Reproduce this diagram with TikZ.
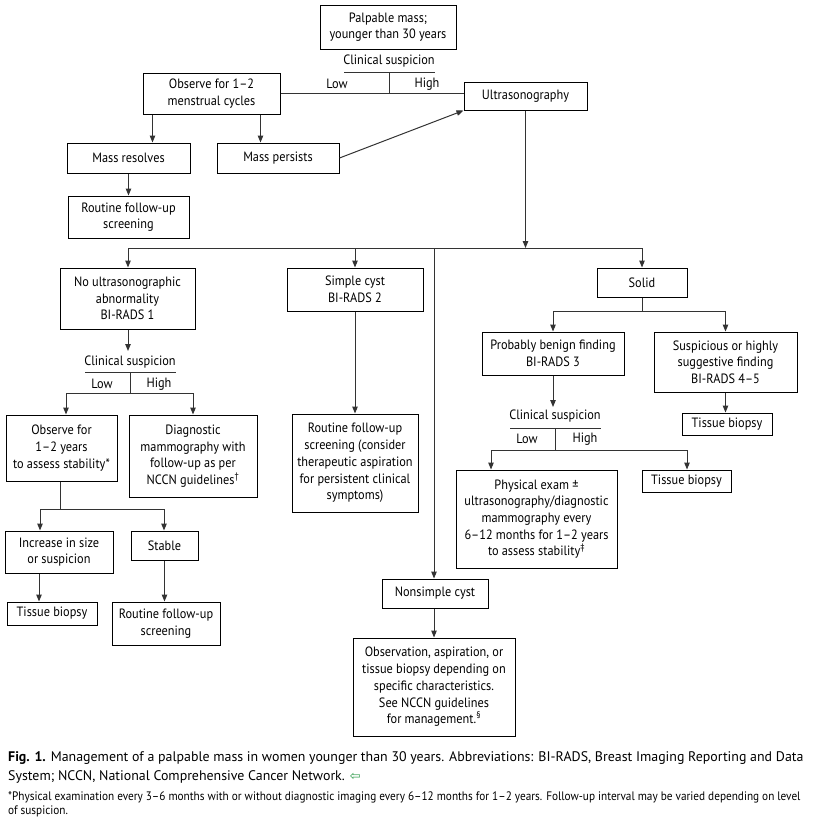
\documentclass[tikz,border=0pt]{standalone}
\usepackage{fontspec}
\setmainfont{PT Sans}[FakeStretch=0.91]
\newfontfamily\capfont{PT Sans}
\newfontfamily\footfont{PT Sans}[FakeStretch=0.915]
\newfontfamily\symfont{DejaVu Sans}
\usetikzlibrary{arrows.meta,calc}
\definecolor{lncol}{HTML}{333333}
\definecolor{capgreen}{HTML}{2E9A4A}
\begin{document}
\begin{tikzpicture}[x=1pt,y=-1pt,
  box/.style={draw=black, line width=1pt, align=center, inner sep=0pt,
    font=\fontsize{13.5}{16.7}\selectfont},
  lbl/.style={inner sep=0pt, font=\fontsize{13.5}{15}\selectfont},
  ln/.style={draw=lncol, line width=1pt},
  arr/.style={ln, -{Triangle[length=7pt,width=5.5pt]}}]
\useasboundingbox (0,0) rectangle (812,825);

% ---- boxes ----
\node[box, minimum width=136pt, minimum height=44pt] (palp) at (388,27) {Palpable mass;\\younger than 30 years};
\node[box, minimum width=137pt, minimum height=41pt] (obs) at (211.5,93.5) {Observe for 1–2\\menstrual cycles};
\node[box, minimum width=123pt, minimum height=28pt] (us) at (525.5,96) {Ultrasonography};
\node[box, minimum width=123pt, minimum height=30pt] (resolves) at (128.5,158) {Mass resolves};
\node[box, minimum width=122pt, minimum height=30pt] (persists) at (278,158) {Mass persists};
\node[box, minimum width=121pt, minimum height=42pt] (routine1) at (128.5,217) {Routine follow-up\\screening};
\node[box, minimum width=135pt, minimum height=61pt] (noultra) at (127.5,298.5) {No ultrasonographic\\abnormality\\BI-RADS 1};
\node[box, minimum width=136pt, minimum height=43pt] (simple) at (355,289.5) {Simple cyst\\BI-RADS 2};
\node[box, minimum width=90pt, minimum height=29pt] (solid) at (642,282.5) {Solid};
\node[box, minimum width=142pt, minimum height=43pt] (probben) at (553,353.5) {Probably benign finding\\BI-RADS 3};
\node[box, minimum width=143pt, minimum height=60pt] (susp) at (725.5,362) {Suspicious or highly\\suggestive finding\\BI-RADS 4–5};
\node[box, minimum width=90pt, minimum height=22pt] (tbsusp) at (727,424) {Tissue biopsy};
\node[box, minimum width=161pt, minimum height=98pt] (phys) at (536.5,519) {Physical exam ±\\ultrasonography/diagnostic\\mammography every\\6–12 months for 1–2 years\\to assess stability\textsuperscript{‡}};
\node[box, minimum width=89pt, minimum height=22pt] (tbhigh) at (686.5,481) {Tissue biopsy};
\node[box, minimum width=106pt, minimum height=29pt] (nonsimple) at (435,593.5) {Nonsimple cyst};
\node[box, minimum width=162pt, minimum height=98pt] (observation) at (434,687) {Observation, aspiration, or\\tissue biopsy depending on\\specific characteristics.\\See NCCN guidelines\\for management.\textsuperscript{§}};
\node[box, minimum width=126pt, minimum height=98pt] (routsimple) at (355,463) {Routine follow-up\\screening (consider\\therapeutic aspiration\\for persistent clinical\\symptoms)};
\node[box, minimum width=111pt, minimum height=66pt] (obs12) at (61.5,448) {Observe for\\1–2 years\\to assess stability*};
\node[box, minimum width=128pt, minimum height=82pt] (diag) at (193,456) {Diagnostic\\mammography with\\follow-up as per\\NCCN guidelines\textsuperscript{†}};
\node[box, minimum width=108pt, minimum height=42pt] (increase) at (59,552) {Increase in size\\or suspicion};
\node[box, minimum width=67pt, minimum height=29pt] (stable) at (164.5,545.5) {Stable};
\node[box, minimum width=90pt, minimum height=23pt] (tbleft) at (52,613.5) {Tissue biopsy};
\node[box, minimum width=108pt, minimum height=43pt] (routleft) at (166,623.5) {Routine follow-up\\screening};

% ---- clinical suspicion 1 (top) ----
\node[lbl] (cs1) at (389,61) {Clinical suspicion};
\node[lbl] (low1) at (337,84) {Low};
\node[lbl] (high1) at (427,84) {High};
\coordinate (u1a) at (344,72); \coordinate (u1b) at (435,72);
\coordinate (t1a) at (389,72); \coordinate (t1b) at (389,93.5);
\draw[ln] (u1a) -- (u1b);
\draw[ln] (t1a) -- (t1b);
\draw[ln] (obs.east) -- (obs.east -| us.west);

\draw[arr] ([xshift=10pt]obs.south west) -- ([xshift=10pt]obs.south west |- resolves.north);
\draw[arr] ([xshift=-20pt]obs.south east) -- ([xshift=-20pt]obs.south east |- persists.north);
\draw[arr] (persists.east) -- (us.south west);
\draw[arr] (resolves.south) -- (resolves.south |- routine1.north);

% ---- ultrasonography bus ----
\coordinate (bus) at (525.5,248);
\coordinate (busL) at (128,248);
\coordinate (busR) at (642,248);
\coordinate (busN) at (434,248);
\draw[arr] (us.south) -- (bus);
\draw[ln] (busL) -- (busR);
\draw[arr] (busL) -- (busL |- noultra.north);
\draw[arr] (simple.north |- busL) -- (simple.north);
\draw[arr] (busR) -- (solid.north);
\draw[arr] (busN) -- (busN |- nonsimple.north);

% ---- clinical suspicion 2 (left) ----
\coordinate (cs2tip) at (128,351);
\draw[arr] (noultra.south -| cs2tip) -- (cs2tip);
\node[lbl] (cs2) at (130,362) {Clinical suspicion};
\node[lbl] (low2) at (102,384) {Low};
\node[lbl] (high2) at (159,384) {High};
\coordinate (u2a) at (85,372); \coordinate (u2b) at (176,372);
\coordinate (t2a) at (130,372); \coordinate (t2b) at (130,393);
\coordinate (h2a) at (66,393); \coordinate (h2b) at (193,393);
\draw[ln] (u2a) -- (u2b);
\draw[ln] (t2a) -- (t2b);
\draw[ln] (h2a) -- (h2b);
\draw[arr] (h2a) -- (h2a |- obs12.north);
\draw[arr] (h2b) -- (h2b |- diag.north);

\draw[arr] (simple.south) -- (simple.south |- routsimple.north);

% ---- solid ----
\coordinate (s1) at (642,311);
\coordinate (s1a) at (553,311); \coordinate (s1b) at (725.5,311);
\draw[ln] (solid.south) -- (s1);
\draw[ln] (s1a) -- (s1b);
\draw[arr] (s1a) -- (probben.north);
\draw[arr] (s1b) -- (susp.north);
\draw[arr] (susp.south) -- (susp.south |- tbsusp.north);

% ---- clinical suspicion 3 (right) ----
\coordinate (cs3tip) at (553,407);
\draw[arr] (probben.south) -- (cs3tip);
\node[lbl] (cs3) at (555,416) {Clinical suspicion};
\node[lbl] (low3) at (527,439) {Low};
\node[lbl] (high3) at (585,439) {High};
\coordinate (u3a) at (510,428); \coordinate (u3b) at (601,428);
\coordinate (t3a) at (555,428); \coordinate (t3b) at (555,450);
\coordinate (h3a) at (491,450); \coordinate (h3b) at (687,450);
\draw[ln] (u3a) -- (u3b);
\draw[ln] (t3a) -- (t3b);
\draw[ln] (h3a) -- (h3b);
\draw[arr] (h3a) -- (h3a |- phys.north);
\draw[arr] (h3b) -- (h3b |- tbhigh.north);

% ---- observe 1-2 years ----
\coordinate (o1) at (60,509);
\coordinate (o1a) at (40,509); \coordinate (o1b) at (164,509);
\draw[ln] (obs12.south -| o1) -- (o1);
\draw[ln] (o1a) -- (o1b);
\draw[arr] (o1a) -- (o1a |- increase.north);
\draw[arr] (o1b) -- (o1b |- stable.north);
\draw[arr] (increase.south -| 39,0) -- (tbleft.north -| 39,0);
\draw[arr] (stable.south) -- (stable.south |- routleft.north);

\draw[arr] (nonsimple.south -| observation.north) -- (observation.north);

% ---- caption ----
\node[anchor=north west, align=left, inner sep=0pt, font=\capfont\fontsize{13.9}{19}\selectfont] (cap) at (8,751)
{\textbf{Fig. 1.} Management of a palpable mass in women younger than 30 years. Abbreviations: BI-RADS, Breast Imaging Reporting and Data\\
System; NCCN, National Comprehensive Cancer Network. {\symfont\color{capgreen}\fontsize{13}{13}\selectfont ⇦}};
\node[anchor=north west, align=left, inner sep=0pt, font=\footfont\fontsize{12.3}{14}\selectfont] (foot) at (8,791)
{*Physical examination every 3–6 months with or without diagnostic imaging every 6–12 months for 1–2 years. Follow-up interval may be varied depending on level\\
of suspicion.};
\end{tikzpicture}
\end{document}
